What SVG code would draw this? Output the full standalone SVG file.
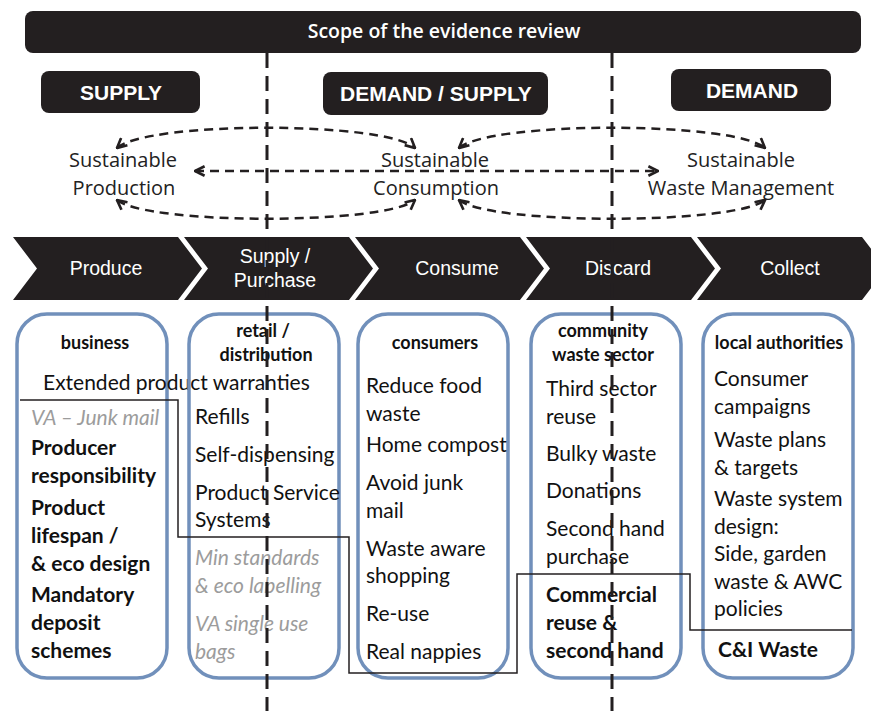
<svg xmlns="http://www.w3.org/2000/svg" width="871" height="711" viewBox="0 0 871 711">
  <defs>
    <style>
      .dark { fill: #231f20; }
      .hdr { font-family: "Open Sans", "Liberation Sans", sans-serif; font-weight: 600; font-size: 19.5px; fill: #fff; text-anchor: middle; }
      .tag { font-family: "Liberation Sans", Arial, sans-serif; font-weight: bold; font-size: 21px; fill: #fff; text-anchor: middle; }
      .goal { font-family: "Open Sans", "Liberation Sans", sans-serif; font-size: 20px; fill: #222; text-anchor: middle; }
      .step { font-family: "Liberation Sans", Arial, sans-serif; font-size: 19.5px; fill: #fff; text-anchor: middle; }
      .box { fill: none; stroke: #7190bb; stroke-width: 3.5; }
      .actor { font-family: "Lato", "Liberation Sans", sans-serif; font-weight: bold; font-size: 18px; fill: #111; text-anchor: middle; }
      .item { font-family: "Lato", "Liberation Sans", sans-serif; font-size: 21px; fill: #111; }
      .strong { font-family: "Lato", "Liberation Sans", sans-serif; font-weight: bold; font-size: 21px; fill: #111; }
      .vol { font-family: "Lato", "Liberation Sans", sans-serif; font-style: italic; font-size: 21px; fill: #9c9c9c; }
      .divider { fill: none; stroke: #231f20; stroke-width: 3; stroke-dasharray: 15 8; }
      .cycle { fill: none; stroke: #231f20; stroke-width: 2.5; stroke-dasharray: 9 6; }
      .step-line { fill: none; stroke: #231f20; stroke-width: 1.5; }
    </style>
    <marker id="open-arrow" viewBox="0 0 10 10" refX="9" refY="5" markerWidth="12" markerHeight="12" markerUnits="userSpaceOnUse" orient="auto-start-reverse">
      <path d="M1,1 L9,5 L1,9" fill="none" stroke="#231f20" stroke-width="2.2" stroke-dasharray="none"/>
    </marker>
  </defs>

  <rect width="871" height="711" fill="#fff"/>

  <!-- title bar -->
  <g id="scope">
    <rect class="dark" x="25" y="11" width="836" height="42" rx="8"/>
    <text class="hdr" x="444" y="38">Scope of the evidence review</text>
  </g>

  <!-- supply / demand tags -->
  <g id="tag-supply">
    <rect class="dark" x="41" y="71" width="159" height="42" rx="8"/>
    <text class="tag" x="121" y="100">SUPPLY</text>
  </g>
  <g id="tag-demand-supply">
    <rect class="dark" x="323" y="72" width="225" height="43" rx="8"/>
    <text class="tag" x="436" y="101">DEMAND / SUPPLY</text>
  </g>
  <g id="tag-demand">
    <rect class="dark" x="671" y="69" width="160" height="42" rx="8"/>
    <text class="tag" x="752" y="98">DEMAND</text>
  </g>

  <!-- sustainability goals -->
  <g id="goal-production">
    <text class="goal" x="123" y="167">Sustainable</text>
    <text class="goal" x="124" y="195">Production</text>
  </g>
  <g id="goal-consumption">
    <text class="goal" x="435" y="167">Sustainable</text>
    <text class="goal" x="436" y="195">Consumption</text>
  </g>
  <g id="goal-waste">
    <text class="goal" x="741" y="167">Sustainable</text>
    <text class="goal" x="741" y="195">Waste Management</text>
  </g>

  <!-- value chain chevrons -->
  <g id="step-produce">
    <path class="dark" d="M13,237 H178 L202,268.5 L178,300 H13 L37,268.5 Z"/>
    <text class="step" x="106" y="275">Produce</text>
  </g>
  <g id="step-supply">
    <path class="dark" d="M184,237 H349 L373,268.5 L349,300 H184 L208,268.5 Z"/>
    <text class="step" x="275" y="263">Supply /</text>
    <text class="step" x="275" y="287">Purchase</text>
  </g>
  <g id="step-consume">
    <path class="dark" d="M355,237 H520 L544,268.5 L520,300 H355 L379,268.5 Z"/>
    <text class="step" x="457" y="275">Consume</text>
  </g>
  <g id="step-discard">
    <path class="dark" d="M526,237 H691 L715,268.5 L691,300 H526 L550,268.5 Z"/>
    <text class="step" x="618" y="275">Discard</text>
  </g>
  <g id="step-collect">
    <path class="dark" d="M697,237 H862 L886,268.5 L862,300 H697 L721,268.5 Z"/>
    <text class="step" x="790" y="275">Collect</text>
  </g>

  <!-- actor boxes -->
  <g id="actor-business">
    <rect class="box" x="17" y="314" width="150" height="364" rx="30"/>
    <text class="actor" x="95" y="349">business</text>
    <text class="item" x="43" y="390">Extended product warranties</text>
    <text class="vol" x="31" y="425">VA – Junk mail</text>
    <text class="strong" x="31" y="455">Producer</text>
    <text class="strong" x="31" y="483">responsibility</text>
    <text class="strong" x="31" y="515">Product</text>
    <text class="strong" x="31" y="543">lifespan /</text>
    <text class="strong" x="31" y="571">&amp; eco design</text>
    <text class="strong" x="31" y="602">Mandatory</text>
    <text class="strong" x="31" y="630">deposit</text>
    <text class="strong" x="31" y="658">schemes</text>
  </g>
  <g id="actor-retail">
    <rect class="box" x="189" y="314" width="150" height="364" rx="30"/>
    <text class="actor" x="263" y="337">retail /</text>
    <text class="actor" x="266" y="361">distribution</text>
    <text class="item" x="195" y="424">Refills</text>
    <text class="item" x="195" y="462">Self-dispensing</text>
    <text class="item" x="195" y="500">Product Service</text>
    <text class="item" x="195" y="527">Systems</text>
    <text class="vol" x="195" y="565">Min standards</text>
    <text class="vol" x="195" y="593">&amp; eco labelling</text>
    <text class="vol" x="195" y="631">VA single use</text>
    <text class="vol" x="195" y="659">bags</text>
  </g>
  <g id="actor-consumers">
    <rect class="box" x="358" y="314" width="150" height="364" rx="30"/>
    <text class="actor" x="435" y="349">consumers</text>
    <text class="item" x="366" y="393">Reduce food</text>
    <text class="item" x="366" y="421">waste</text>
    <text class="item" x="366" y="452">Home compost</text>
    <text class="item" x="366" y="490">Avoid junk</text>
    <text class="item" x="366" y="518">mail</text>
    <text class="item" x="366" y="556">Waste aware</text>
    <text class="item" x="366" y="583">shopping</text>
    <text class="item" x="366" y="621">Re-use</text>
    <text class="item" x="366" y="659">Real nappies</text>
  </g>
  <g id="actor-community">
    <rect class="box" x="531" y="314" width="150" height="364" rx="30"/>
    <text class="actor" x="603" y="337">community</text>
    <text class="actor" x="603" y="361">waste sector</text>
    <text class="item" x="546" y="396">Third sector</text>
    <text class="item" x="546" y="424">reuse</text>
    <text class="item" x="546" y="461">Bulky waste</text>
    <text class="item" x="546" y="498">Donations</text>
    <text class="item" x="546" y="536">Second hand</text>
    <text class="item" x="546" y="564">purchase</text>
    <text class="strong" x="546" y="602">Commercial</text>
    <text class="strong" x="546" y="630">reuse &amp;</text>
    <text class="strong" x="546" y="658">second hand</text>
  </g>
  <g id="actor-local-authorities">
    <rect class="box" x="703" y="314" width="150" height="364" rx="30"/>
    <text class="actor" x="779" y="349">local authorities</text>
    <text class="item" x="714" y="386">Consumer</text>
    <text class="item" x="714" y="414">campaigns</text>
    <text class="item" x="714" y="447">Waste plans</text>
    <text class="item" x="714" y="475">&amp; targets</text>
    <text class="item" x="714" y="506">Waste system</text>
    <text class="item" x="714" y="534">design:</text>
    <text class="item" x="714" y="561">Side, garden</text>
    <text class="item" x="714" y="589">waste &amp; AWC</text>
    <text class="item" x="714" y="616">policies</text>
    <text class="strong" x="718" y="657">C&amp;I Waste</text>
  </g>

  <!-- connectors: goal cycles, scope boundary and dividers -->
  <g id="connectors">
    <path class="cycle" d="M117,148 C148,121 385,121 415,148" marker-start="url(#open-arrow)" marker-end="url(#open-arrow)"/>
    <path class="cycle" d="M117,200 C148,225 385,225 415,200" marker-start="url(#open-arrow)" marker-end="url(#open-arrow)"/>
    <path class="cycle" d="M459,148 C490,121 734,121 765,148" marker-start="url(#open-arrow)" marker-end="url(#open-arrow)"/>
    <path class="cycle" d="M459,200 C490,225 734,225 765,200" marker-start="url(#open-arrow)" marker-end="url(#open-arrow)"/>
    <path class="cycle" d="M195,171 H658" marker-start="url(#open-arrow)" marker-end="url(#open-arrow)"/>
    <path class="step-line" d="M20,400 H178 V537 H349 V673 H517 V574 H690 V630 H852"/>
    <path class="divider" d="M267,53 V711"/>
    <path class="divider" d="M612,53 V711"/>
  </g>
</svg>
